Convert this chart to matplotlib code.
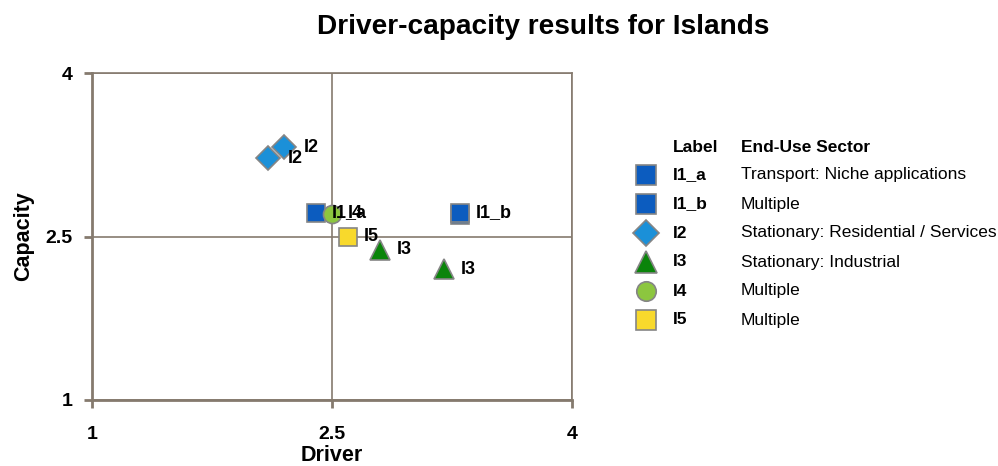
import matplotlib
matplotlib.use("Agg")
import matplotlib.pyplot as plt
from matplotlib.lines import Line2D

plt.rcParams['font.family'] = ['Liberation Sans', 'DejaVu Sans']

# series data (driver, capacity)
labels = ['I1_a', 'I1_b', 'I2', 'I3', 'I4', 'I5']
sectors = ['Transport: Niche applications', 'Multiple',
           'Stationary: Residential / Services', 'Stationary: Industrial',
           'Multiple', 'Multiple']
i1a_x = [2.4]
i1a_y = [2.72]
i1b_x = [3.3, 3.3]
i1b_y = [2.70, 2.72]
i2_x = [2.1, 2.2]
i2_y = [3.22, 3.32]
i3_x = [2.8, 3.2]
i3_y = [2.38, 2.2]
i4_x = [2.5]
i4_y = [2.71]
i5_x = [2.6]
i5_y = [2.5]
ticks = [1, 2.5, 4]
tick_labels = ['1', '2.5', '4']

series_x = [i1a_x, i1b_x, i2_x, i3_x, i4_x, i5_x]
series_y = [i1a_y, i1b_y, i2_y, i3_y, i4_y, i5_y]
# which points get a data label
labelled = [[True], [False, True], [True, True], [True, True], [True], [True]]

markers = ['s', 's', 'D', '^', 'o', 's']
sizes = [13.5, 13.5, 12.5, 15, 13, 13.5]
colors = ['#0c5cbf', '#0c5cbf', '#1b90d8', '#0a840a', '#8cc63f', '#f8d92c']
offsets = [11.5, 11.5, 14, 12, 11.5, 11.5]
edge = '#858585'
axis_col = '#857a6e'

fig = plt.figure(figsize=(9.98, 4.66), dpi=100)
ax = fig.add_axes([92/998, 1-400/466, 480/998, 327/466])

for xs, ys, m, s, c in zip(series_x, series_y, markers, sizes, colors):
    ax.plot(xs, ys, linestyle='none', marker=m, markersize=s,
            markerfacecolor=c, markeredgecolor=edge, markeredgewidth=1.2,
            zorder=3)

for lab, xs, ys, flags, off in zip(labels, series_x, series_y, labelled, offsets):
    for x, y, f in zip(xs, ys, flags):
        if f:
            ax.annotate(lab, (x, y), xytext=(off, 0), textcoords='offset points',
                        ha='left', va='center', fontsize=13, fontweight='bold',
                        zorder=4)

ax.set_xlim(1, 4)
ax.set_ylim(1, 4)
ax.set_xticks(ticks)
ax.set_xticklabels(tick_labels)
ax.set_yticks(ticks)
ax.set_yticklabels(tick_labels)
ax.grid(True, color=axis_col, linewidth=1.2, zorder=0)
ax.set_axisbelow(True)
for side in ['left', 'bottom']:
    ax.spines[side].set_color(axis_col)
    ax.spines[side].set_linewidth(2)
for side in ['top', 'right']:
    ax.spines[side].set_color(axis_col)
    ax.spines[side].set_linewidth(1.2)
ax.tick_params(axis='both', color=axis_col, width=2, length=6,
               labelsize=14)
ax.tick_params(axis='x', pad=13)
ax.tick_params(axis='y', pad=8)
for t in ax.get_xticklabels() + ax.get_yticklabels():
    t.set_fontweight('bold')

ax.set_xlabel('Driver', fontsize=15.5, fontweight='bold', labelpad=1)
ax.set_ylabel('Capacity', fontsize=15.5, fontweight='bold', labelpad=8)

fig.text(0.5445, 1-26.5/466, 'Driver-capacity results for Islands',
         ha='center', va='center', fontsize=20.2, fontweight='bold')

# legend table
mx, lx, sx = 646/998, 673/998, 741/998
fig.text(lx, 1-147/466, 'Label', ha='left', va='center', fontsize=12.5, fontweight='bold')
fig.text(sx, 1-147/466, 'End-Use Sector', ha='left', va='center', fontsize=12.5, fontweight='bold')
for i, (lab, sec) in enumerate(zip(labels, sectors)):
    y = 1 - (175 + i*29)/466
    fig.add_artist(Line2D([mx], [y], transform=fig.transFigure, linestyle='none',
                          marker=markers[i], markersize=sizes[i]+1,
                          markerfacecolor=colors[i], markeredgecolor=edge,
                          markeredgewidth=1.2))
    fig.text(lx, y, lab, ha='left', va='center', fontsize=12.5, fontweight='bold')
    fig.text(sx, y, sec, ha='left', va='center', fontsize=12.5)

fig.savefig('out.png', dpi=100)
